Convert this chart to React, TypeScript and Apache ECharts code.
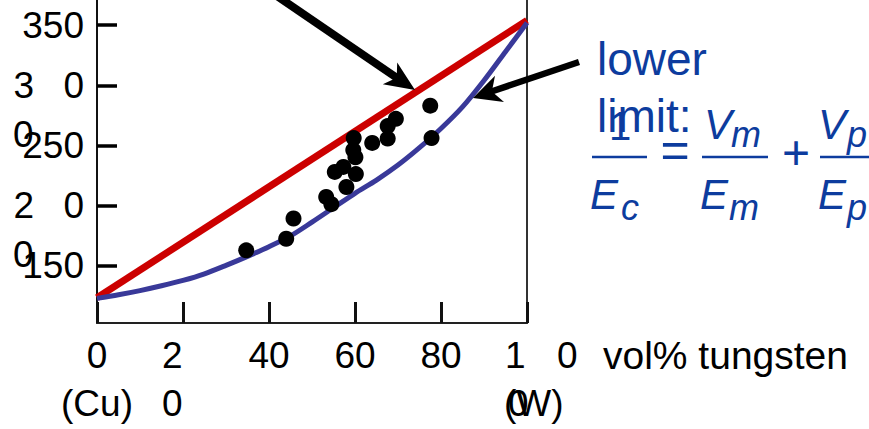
import React, { useEffect, useRef } from "react";
import * as echarts from "echarts";

// ---- data ----
const xTicks = [0, 20, 40, 60, 80, 100];
const xTickLabels = ["0\n(Cu)", "20", "40", "60", "80", "100\n(W)"];
const yTicks = [150, 200, 250, 300, 350];
const yTickLabels = ["150", "200", "250", "300", "350"];
const yWrapped = [200, 300]; // labels whose middle digit dropped to a second line

// upper limit (rule of mixtures) end points, GPa
const upperVol = [0, 100];
const upperE = [123, 354];

// lower limit curve
const lowerVol = [0, 5, 10, 15, 20, 25, 30, 35, 40, 45, 50, 55, 60, 65, 70, 75, 80, 85, 90, 95, 100];
const lowerE = [122.5, 125.5, 129, 133, 137.5, 143, 150, 157.5, 165.5, 174.5, 186, 198, 210, 221, 233.5, 248, 264, 282, 304, 328, 352];

// measured data points
const sampleVol = [34.7, 44.0, 45.7, 53.3, 54.5, 55.3, 58.0, 57.3, 60.2, 59.7, 59.6, 60.1, 64.0, 67.6, 67.6, 69.5, 77.5, 77.8];
const sampleE = [162.5, 172.2, 189, 207, 201, 227.8, 215.3, 232, 226, 256, 246, 240, 252, 255.6, 266, 272, 283, 256];

const FONT = "Liberation Sans";
const BLUE = "#0d3c9e";

function yLabelFormatter(value: number): string {
  const i = yTicks.indexOf(Math.round(value));
  if (i < 0) return "";
  const t = yTickLabels[i];
  if (yWrapped.includes(yTicks[i])) return `{a|${t[0]}}{b|${t[2]}}`;
  return t;
}

function yLabelFormatter2(value: number): string {
  const i = yTicks.indexOf(Math.round(value));
  if (i < 0) return "";
  return yTickLabels[i][1];
}

function xLabelFormatter(value: number): string {
  const i = xTicks.indexOf(Math.round(value));
  if (i < 0) return "";
  const t = xTickLabels[i];
  if (t === "20") return `{t|${t[0]}}\n{t|${t[1]}}`;
  if (t.startsWith("100")) {
    const second = t.split("\n")[1];
    return `{sp| }{one|1}{z|0}\n{sp2| }{w|${second}}`;
  }
  return t;
}

function xLabelFormatter2(value: number): string {
  const i = xTicks.indexOf(Math.round(value));
  if (i < 0) return "";
  const t = xTickLabels[i];
  if (t.startsWith("100")) return `{h| }\n{h|${t[1]}}`;
  return "";
}

const txt = (base: any) => ({ fontFamily: FONT, fontSize: 37, color: "#000", ...base });

export default function App() {
  const ref = useRef<HTMLDivElement>(null);
  useEffect(() => {
    if (!ref.current) return;
    const chart = echarts.init(ref.current, undefined, { renderer: "svg" });

    const gtext = (text: string, x: number, y: number, size: number, italic: boolean, align = "left") => ({
      type: "text",
      x,
      y,
      z: 10,
      style: {
        text,
        fill: BLUE,
        fontFamily: FONT,
        fontSize: size,
        fontStyle: italic ? "italic" : "normal",
        align,
        verticalAlign: "middle",
      },
    });
    const bar = (x1: number, x2: number, y: number) => ({
      type: "line",
      z: 10,
      shape: { x1, y1: y, x2, y2: y },
      style: { stroke: BLUE, lineWidth: 2.5 },
    });

    const option: any = {
      animation: false,
      grid: { left: 97, right: 342, top: 0, bottom: 106, containLabel: false, outerBoundsMode: "none" },
      xAxis: [
        {
          type: "value",
          min: 0,
          max: 100,
          position: "bottom",
          splitLine: { show: false },
          axisLine: { show: true, onZero: false, lineStyle: { color: "#222", width: 2 } },
          axisTick: { show: true, inside: true, length: 21, customValues: xTicks, lineStyle: { color: "#111", width: 3 } },
          axisLabel: {
            customValues: xTicks,
            showMinLabel: true,
            showMaxLabel: true,
            hideOverlap: false,
            formatter: xLabelFormatter,
            fontFamily: FONT,
            fontSize: 37,
            color: "#000",
            margin: 8,
            lineHeight: 48,
            rich: {
              t: txt({ width: 42, align: "left", lineHeight: 48 }),
              sp: txt({ width: 29, align: "left", lineHeight: 48 }),
              one: txt({ width: 52, align: "left", lineHeight: 48 }),
              z: txt({ width: 21, align: "left", lineHeight: 48 }),
              sp2: txt({ width: 28, align: "left", lineHeight: 48 }),
              w: txt({ align: "left", lineHeight: 48 }),
            },
          },
          name: "vol% tungsten",
          nameLocation: "end",
          nameGap: 76,
          nameTextStyle: {
            fontFamily: FONT,
            fontSize: 39,
            color: "#000",
            align: "left",
            verticalAlign: "top",
            lineHeight: 48,
            padding: [8, 0, 0, 0],
          },
        },
        {
          type: "value",
          min: 0,
          max: 100,
          position: "bottom",
          splitLine: { show: false },
          axisLine: { show: false },
          axisTick: { show: false },
          axisLabel: {
            customValues: [100],
            showMinLabel: true,
            showMaxLabel: true,
            formatter: xLabelFormatter2,
            fontFamily: FONT,
            fontSize: 37,
            color: "#000",
            margin: 8,
            lineHeight: 48,
            rich: { h: txt({ width: 38, align: "left", lineHeight: 48 }) },
          },
        },
      ],
      yAxis: [
        {
          type: "value",
          min: 102,
          max: 371,
          position: "left",
          splitLine: { show: false },
          axisLine: { show: true, onZero: false, lineStyle: { color: "#111", width: 2 } },
          axisTick: { show: true, inside: true, length: 20, customValues: yTicks, lineStyle: { color: "#000", width: 3.5 } },
          axisLabel: {
            customValues: yTicks,
            showMinLabel: true,
            showMaxLabel: true,
            hideOverlap: false,
            formatter: yLabelFormatter,
            fontFamily: FONT,
            fontSize: 37,
            color: "#000",
            margin: 13,
            rich: {
              a: txt({ width: 50, align: "left" }),
              b: txt({ align: "left" }),
            },
          },
        },
        {
          type: "value",
          min: 102,
          max: 371,
          position: "right",
          splitLine: { show: false },
          axisLine: { show: true, onZero: false, lineStyle: { color: "#333", width: 2 } },
          axisTick: { show: false },
          axisLabel: { show: false },
        },
        {
          type: "value",
          min: 102,
          max: 371,
          position: "left",
          splitLine: { show: false },
          axisLine: { show: false },
          axisTick: { show: false },
          axisLabel: {
            customValues: yWrapped,
            showMinLabel: true,
            showMaxLabel: true,
            formatter: yLabelFormatter2,
            fontFamily: FONT,
            fontSize: 37,
            color: "#000",
            align: "left",
            verticalAlign: "top",
            margin: 84,
            lineHeight: 37,
            padding: [31, 0, 0, 0],
          },
        },
      ],
      series: [
        {
          type: "line",
          name: "upper limit",
          data: upperVol.map((v, i) => [v, upperE[i]]),
          symbol: "none",
          lineStyle: { color: "#cc0000", width: 7 },
          silent: true,
          z: 2,
        },
        {
          type: "line",
          name: "lower limit",
          data: lowerVol.map((v, i) => [v, lowerE[i]]),
          symbol: "none",
          smooth: 0.3,
          lineStyle: { color: "#393999", width: 5 },
          silent: true,
          z: 2,
        },
        {
          type: "scatter",
          name: "data",
          data: sampleVol.map((v, i) => [v, sampleE[i]]),
          symbol: "circle",
          symbolSize: 16,
          itemStyle: { color: "#000", opacity: 1 },
          silent: true,
          z: 3,
        },
      ],
      graphic: [
        // arrow to upper limit
        { type: "line", z: 9, shape: { x1: 274, y1: -6, x2: 400, y2: 80 }, style: { stroke: "#000", lineWidth: 8 } },
        { type: "polygon", z: 9, shape: { points: [[415, 90], [382.8, 84.2], [396.7, 77.8], [397.2, 62.6]] }, style: { fill: "#000" } },
        // arrow to lower limit
        { type: "line", z: 9, shape: { x1: 579, y1: 62, x2: 490, y2: 92 }, style: { stroke: "#000", lineWidth: 6.5 } },
        { type: "polygon", z: 9, shape: { points: [[473, 98], [495, 75.7], [491.9, 91.5], [504, 102.1]] }, style: { fill: "#000" } },
        // lower limit text and equation
        gtext("lower", 597, 59, 46, false),
        gtext("limit:", 597, 116, 46, false),
        gtext("1", 620, 126, 40, false, "center"),
        bar(592, 647, 157),
        gtext("=", 675, 150, 50, false, "center"),
        gtext("V", 704, 124, 42, true),
        gtext("m", 731, 134, 36, true),
        bar(702, 768, 157),
        gtext("+", 796, 152, 48, false, "center"),
        gtext("V", 818, 124, 42, true),
        gtext("p", 847, 134, 36, true),
        bar(820, 875, 157),
        gtext("E", 590, 194, 42, true),
        gtext("c", 621, 207, 36, true),
        gtext("E", 700, 194, 42, true),
        gtext("m", 729, 207, 36, true),
        gtext("E", 818, 194, 42, true),
        gtext("p", 847, 207, 36, true),
      ],
    };
    chart.setOption(option);
    return () => chart.dispose();
  }, []);
  return <div ref={ref} style={{ position: "absolute", left: 0, top: 0, width: 869, height: 429 }} />;
}
